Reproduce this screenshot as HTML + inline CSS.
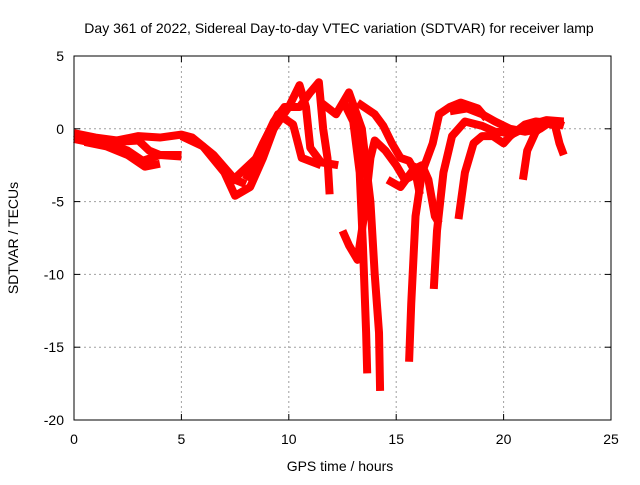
<!DOCTYPE html>
<html><head><meta charset="utf-8"><style>
body{margin:0;background:#fff;font-family:"Liberation Sans",sans-serif}
svg text{font-family:"Liberation Sans",sans-serif;font-size:14px;fill:#000}
</style></head><body>
<svg id="chart" width="640" height="480" xmlns="http://www.w3.org/2000/svg">
<text x="339" y="33" text-anchor="middle">Day 361 of 2022, Sidereal Day-to-day VTEC variation (SDTVAR) for receiver lamp</text>
<text x="340" y="471" text-anchor="middle">GPS time / hours</text>
<text transform="translate(18,238) rotate(-90)" text-anchor="middle">SDTVAR / TECUs</text>
<g id="grid"></g><g id="marks"></g><g id="axes"></g>
</svg>
<script>
const xTicks=[0,5,10,15,20,25];
const yTicks=[5,0,-5,-10,-15,-20];
const s1=[[0,-0.3],[1,-0.6],[2,-0.8],[3,-0.5],[4,-0.6],[5,-0.4],[5.5,-0.6],[6.5,-1.8],[7.5,-3.5],[8,-3.8]];
const s2=[[0,-0.7],[1,-1.0],[2,-1.2],[2.5,-1.5],[3.2,-2.2],[4,-1.8],[5,-1.9]];
const s3=[[0.5,-0.9],[1.5,-1.2],[2.5,-1.8],[3.3,-2.6],[4.0,-2.4]];
const s16=[[0,-0.5],[1,-0.8],[2,-0.9],[3,-0.8],[3.5,-1.5],[4,-1.8],[5,-1.8]];
const s4=[[5,-0.5],[6,-1.2],[7,-3.0],[7.5,-4.6],[8.2,-4.0],[8.8,-2],[9.3,0],[10,1.5],[10.5,3.0],[10.8,1.5],[11.0,-1.3],[11.5,-2.3],[12.3,-2.5]];
const s17=[[8,-3.5],[8.8,-1],[9.5,1],[10.2,0.3],[10.6,-2],[11.5,-2.5]];
const s5=[[7.2,-3.8],[8.5,-2],[9.3,0.5],[9.8,1.5],[10.5,1.5],[11,2.5],[11.4,3.2],[11.6,0],[11.8,-2],[11.9,-4.5]];
const s6=[[11.5,1.8],[12.2,1.0],[12.8,2.5],[13.4,0],[13.8,-5],[14.0,-10],[14.2,-14],[14.25,-18]];
const s7=[[12.5,2.0],[13.0,0.5],[13.3,-3],[13.45,-8],[13.6,-14],[13.65,-16.8]];
const s8=[[12.5,-7],[12.8,-8],[13.2,-9],[13.5,-6],[13.8,-2],[14,-0.8],[14.5,-1.5],[15,-2.5],[15.4,-3.5],[15.8,-3.2],[16,-2.4]];
const s9=[[13.2,1.8],[14,1.0],[14.4,0.2],[14.8,-1],[15.2,-2.0],[15.6,-2.2],[15.9,-3],[16.1,-4.5]];
const s10=[[14.6,-3.5],[15.2,-4.0],[15.8,-2.8],[16.2,-2.5],[16.5,-3.5],[16.8,-6],[17.0,-6.5]];
const s11=[[15.6,-16],[15.7,-12],[15.9,-6],[16.2,-3],[16.7,-1],[17,1],[17.5,1.5],[18,1.8],[18.8,1.4],[19.2,0.7]];
const s12=[[16.75,-11],[16.9,-7],[17.2,-3],[17.6,-0.5],[18.2,0.5],[19,0.2],[19.6,-0.2],[20.5,-0.3],[21.3,0.3],[22,0.6],[22.8,0.5]];
const s13=[[17.9,-6.2],[18.2,-3],[18.6,-1],[19,-0.5],[19.5,-0.5],[20,-1],[20.3,-0.5],[21,0.3],[21.5,0.5],[22.8,0.3]];
const s14=[[17.5,1.2],[18.3,1.4],[19,1],[19.6,0.5],[20.3,0],[21,-0.2],[21.7,0],[22.2,0.5],[22.8,0.2]];
const s15=[[20.9,-3.5],[21.1,-1.5],[21.5,-0.2],[22,0.4],[22.4,0.2],[22.6,-1.0],[22.8,-1.8]];
const series=[s1,s2,s3,s16,s4,s17,s5,s6,s7,s8,s9,s10,s11,s12,s13,s14,s15];
const X0=74,X1=611,Y0=56,Y1=420;
const xs=h=>X0+h/25*(X1-X0);
const ys=v=>Y0+(5-v)/25*(Y1-Y0);
const NS="http://www.w3.org/2000/svg";
const g=document.getElementById('grid'),m=document.getElementById('marks'),a=document.getElementById('axes');
function mk(t,at,p){const e=document.createElementNS(NS,t);for(const k in at)e.setAttribute(k,at[k]);p.appendChild(e);return e;}
xTicks.forEach(t=>{const x=xs(t);
 if(t>0&&t<25){const l=mk('line',{x1:x,x2:x,y1:Y0,y2:Y1,stroke:'#a0a0a0','stroke-dasharray':'2,3'},g);
 
 }
 const tx=mk('text',{x:x,y:Y1+24,'text-anchor':'middle'},a);tx.textContent=t;
 
 
 mk('line',{x1:x,x2:x,y1:Y1,y2:Y1-6,stroke:'#000'},a);mk('line',{x1:x,x2:x,y1:Y0,y2:Y0+6,stroke:'#000'},a);});
yTicks.forEach(t=>{const y=ys(t);
 if(t<5&&t>-20){const l=mk('line',{x1:X0,x2:X1,y1:y,y2:y,stroke:'#a0a0a0','stroke-dasharray':'2,3'},g);
 
 }
 const tx=mk('text',{x:X0-10,y:y+5,'text-anchor':'end'},a);tx.textContent=t;
 
 
 mk('line',{x1:X0,x2:X0+6,y1:y,y2:y,stroke:'#000'},a);mk('line',{x1:X1,x2:X1-6,y1:y,y2:y,stroke:'#000'},a);});
const fr=mk('rect',{x:X0,y:Y0,width:X1-X0,height:Y1-Y0,fill:'none',stroke:'#000'},a);


series.forEach((s,i)=>{
 const p=mk('polyline',{points:s.map(d=>xs(d[0])+','+ys(d[1])).join(' '),fill:'none',stroke:'#ff0000','stroke-width':8,'stroke-linejoin':'round','stroke-linecap':'butt'},m);
 
 
});
</script>
</body></html>
